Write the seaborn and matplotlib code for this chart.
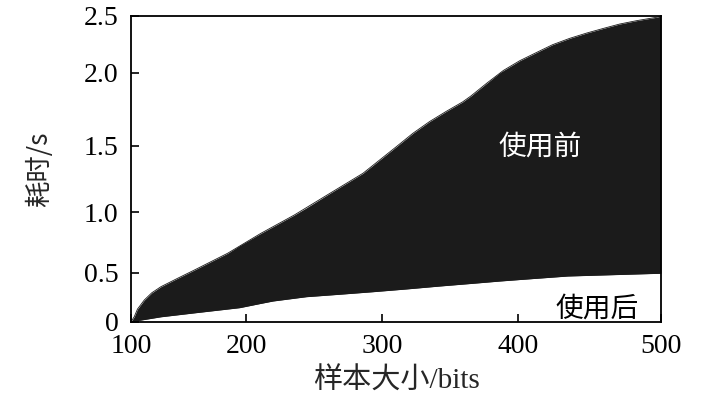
import numpy as np
import pandas as pd
import matplotlib
matplotlib.use('Agg')
import matplotlib.pyplot as plt
import seaborn as sns

# sample size (bits) and elapsed time (s)
size_before = [100, 102.8, 105.6, 111.5, 118, 125.9, 140.4, 154.9, 183.8, 210.7, 235.3, 261,
               285.7, 310.2, 322.4, 334.6, 346.9, 359, 365, 377, 389, 401,
               413, 424, 436, 448, 460, 471, 483, 497, 500]
time_before = [0, 0.051, 0.129, 0.221, 0.295, 0.357, 0.443, 0.522, 0.661, 0.826, 0.978, 1.14,
               1.293, 1.4925, 1.585, 1.665, 1.735, 1.80, 1.84, 1.93, 2.02, 2.106,
               2.18, 2.247, 2.303, 2.35, 2.392, 2.429, 2.459, 2.489, 2.5]
size_after = [100, 125.9, 154.9, 194.2, 219.6, 244.1, 268.6, 293.1, 317.7, 342.2,
              366.8, 386.5, 434.6, 499.4, 500]
time_after = [0, 0.05, 0.09, 0.143, 0.211, 0.255, 0.28, 0.306, 0.334, 0.364,
              0.392, 0.415, 0.466, 0.494, 0.495]

x_ticks = [100, 200, 300, 400, 500]
y_ticks = [0, 0.5, 1.0, 1.5, 2.0, 2.5]
y_ticklabels = ['0', '0.5', '1.0', '1.5', '2.0', '2.5']
label_before = '使用前'
label_after = '使用后'

# the original axes are not evenly spaced: tick positions in pixels
x_tick_px = [0, 115.2, 251.2, 387, 529.5]
y_tick_px = [0, 49, 109.4, 176, 249, 305.7]

def piecewise_scale(vals, pos):
    # extend both ends so values just outside the range still map
    v = [2*vals[0]-vals[1]] + list(vals) + [2*vals[-1]-vals[-2]]
    p = [2*pos[0]-pos[1]] + list(pos) + [2*pos[-1]-pos[-2]]
    fwd = lambda a: np.interp(a, v, p)
    inv = lambda a: np.interp(a, p, v)
    return fwd, inv

sns.set_theme(style='ticks')
plt.rcParams['font.family'] = ['Liberation Serif', 'Noto Sans CJK SC']
plt.rcParams['axes.unicode_minus'] = False
cjk = ['Noto Sans CJK SC', 'DejaVu Sans']

df_b = pd.DataFrame({'size': size_before, 'time': time_before})
df_a = pd.DataFrame({'size': size_after, 'time': time_after})

fig = plt.figure(figsize=(7.09, 4.08), dpi=100)
ax = fig.add_axes([0.1848, 0.2115, 0.7475, 0.7493])
ax.set_xscale('function', functions=piecewise_scale(x_ticks, x_tick_px))
ax.set_yscale('function', functions=piecewise_scale(y_ticks, y_tick_px))

fill = '#1b1b1b'
# fill between the two curves on a common grid of read sizes
grid = sorted(set(size_before) | set(size_after))
top = np.interp(grid, size_before, time_before)
bot = np.interp(grid, size_after, time_after)
ax.fill_between(grid, bot, top, color=fill, linewidth=0)
sns.lineplot(data=df_b, x='size', y='time', ax=ax, color=fill, linewidth=0.6)
sns.lineplot(data=df_a, x='size', y='time', ax=ax, color=fill, linewidth=0.6)

ax.set_xlim(100, 500)
ax.set_ylim(0, 2.5)
ax.set_xticks(x_ticks)
ax.set_xticklabels([str(v) for v in x_ticks])
ax.set_yticks(y_ticks)
ax.set_yticklabels(y_ticklabels)
ax.minorticks_off()
ax.tick_params(direction='in', length=6, width=1.2, labelsize=20, colors='black')
ax.tick_params(axis='y', pad=9)
ax.tick_params(axis='x', pad=9)
for s in ax.spines.values():
    s.set_linewidth(1.3)
    s.set_color('black')

ax.set_xlabel('样本大小/bits', fontsize=21, labelpad=6)
ax.set_ylabel('耗时/s', fontsize=19, labelpad=22, family=cjk, fontweight='light')

ax.text(415, 1.49, label_before, color='white', fontsize=20, ha='center', va='center',
        family=cjk, fontweight='light')
ax.text(455, 0.137, label_after, color='black', fontsize=20, ha='center', va='center',
        family=cjk, fontweight='light')

fig.savefig('out.png', dpi=100)
